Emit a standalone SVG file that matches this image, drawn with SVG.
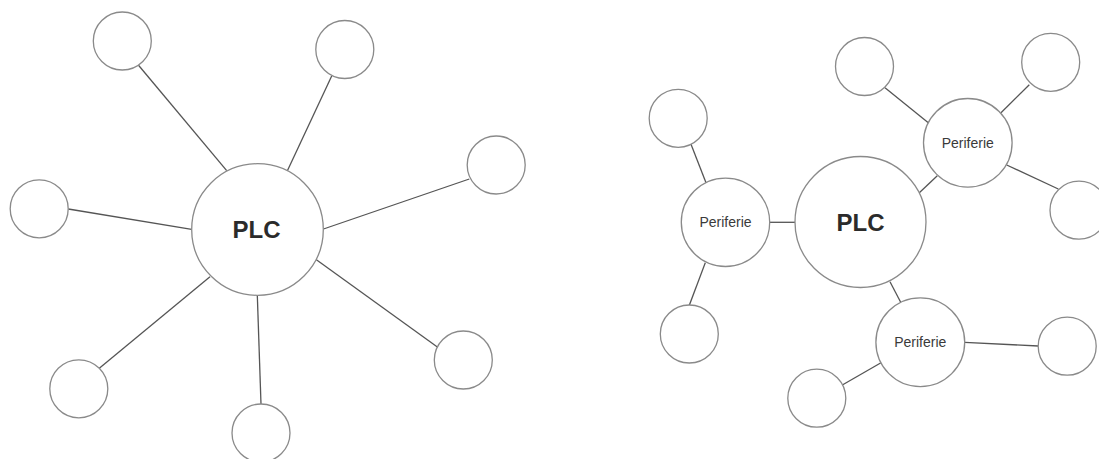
<svg xmlns="http://www.w3.org/2000/svg" width="1099" height="459" viewBox="0 0 1099 459">
  <style>
    .node { fill: #ffffff; stroke: #8a8a8a; stroke-width: 1.3; }
    .link { stroke: #555555; stroke-width: 1.3; fill: none; }
    .plc { font-family: "Liberation Sans", Arial, sans-serif; font-size: 24px; font-weight: bold; fill: #2b2b2b; text-anchor: middle; }
    .peri { font-family: "Liberation Sans", Arial, sans-serif; font-size: 14px; fill: #3a3a3a; text-anchor: middle; }
  </style>
  <rect width="1099" height="459" fill="#ffffff"/>

  <!-- connectors -->
  <g id="connectors">
    <!-- star topology -->
    <line class="link" x1="138.3" y1="65" x2="226.7" y2="170.7"/>
    <line class="link" x1="331.7" y1="76" x2="287.5" y2="170.5"/>
    <line class="link" x1="469.3" y1="179" x2="323.5" y2="229"/>
    <line class="link" x1="68.3" y1="209" x2="191.7" y2="229.3"/>
    <line class="link" x1="437.7" y1="347.3" x2="315.7" y2="259.3"/>
    <line class="link" x1="99.3" y1="368.3" x2="210" y2="276.7"/>
    <line class="link" x1="257.3" y1="295" x2="261" y2="404"/>
    <!-- tree topology -->
    <line class="link" x1="769.7" y1="222.3" x2="795" y2="222.3"/>
    <line class="link" x1="691" y1="144.3" x2="706" y2="182.7"/>
    <line class="link" x1="705.3" y1="262.7" x2="689.3" y2="305.3"/>
    <line class="link" x1="919.3" y1="192.7" x2="937.3" y2="175.7"/>
    <line class="link" x1="885" y1="87.7" x2="928.3" y2="122.7"/>
    <line class="link" x1="1001" y1="112.7" x2="1029.3" y2="84.7"/>
    <line class="link" x1="1006.7" y1="165" x2="1058.3" y2="189"/>
    <line class="link" x1="890" y1="281.7" x2="900.7" y2="302.3"/>
    <line class="link" x1="964.7" y1="342.3" x2="1038.3" y2="346"/>
    <line class="link" x1="881" y1="362.7" x2="842.3" y2="385"/>
  </g>

  <!-- star topology nodes -->
  <g id="plc-star">
    <circle class="node" cx="257.5" cy="229.5" r="65.8"/>
    <text class="plc" x="256.5" y="237.5">PLC</text>
  </g>
  <g id="star-n1"><circle class="node" cx="122.3" cy="41" r="29"/></g>
  <g id="star-n2"><circle class="node" cx="344.8" cy="49.5" r="29"/></g>
  <g id="star-n3"><circle class="node" cx="496.2" cy="165" r="29"/></g>
  <g id="star-n4"><circle class="node" cx="39.2" cy="208.8" r="29"/></g>
  <g id="star-n5"><circle class="node" cx="463.3" cy="360" r="29"/></g>
  <g id="star-n6"><circle class="node" cx="78.8" cy="388.8" r="29"/></g>
  <g id="star-n7"><circle class="node" cx="261" cy="433" r="29"/></g>

  <!-- tree topology nodes -->
  <g id="plc-tree">
    <circle class="node" cx="860.5" cy="222" r="65.5"/>
    <text class="plc" x="860.5" y="230.5">PLC</text>
  </g>
  <g id="peri-left">
    <circle class="node" cx="725.5" cy="222.3" r="44.2"/>
    <text class="peri" x="725.5" y="227.3">Periferie</text>
  </g>
  <g id="peri-top">
    <circle class="node" cx="967.8" cy="142.8" r="44.3"/>
    <text class="peri" x="967.8" y="147.8">Periferie</text>
  </g>
  <g id="peri-bottom">
    <circle class="node" cx="920.3" cy="342.2" r="44.4"/>
    <text class="peri" x="920.3" y="347.2">Periferie</text>
  </g>
  <g id="tree-n1"><circle class="node" cx="678.2" cy="118.3" r="29"/></g>
  <g id="tree-n2"><circle class="node" cx="689.3" cy="334" r="29"/></g>
  <g id="tree-n3"><circle class="node" cx="864.5" cy="66.5" r="29"/></g>
  <g id="tree-n4"><circle class="node" cx="1050.7" cy="62.3" r="29"/></g>
  <g id="tree-n5"><circle class="node" cx="1079" cy="210.2" r="29"/></g>
  <g id="tree-n6"><circle class="node" cx="1067.2" cy="346.2" r="29"/></g>
  <g id="tree-n7"><circle class="node" cx="816.8" cy="398.2" r="29"/></g>
</svg>
